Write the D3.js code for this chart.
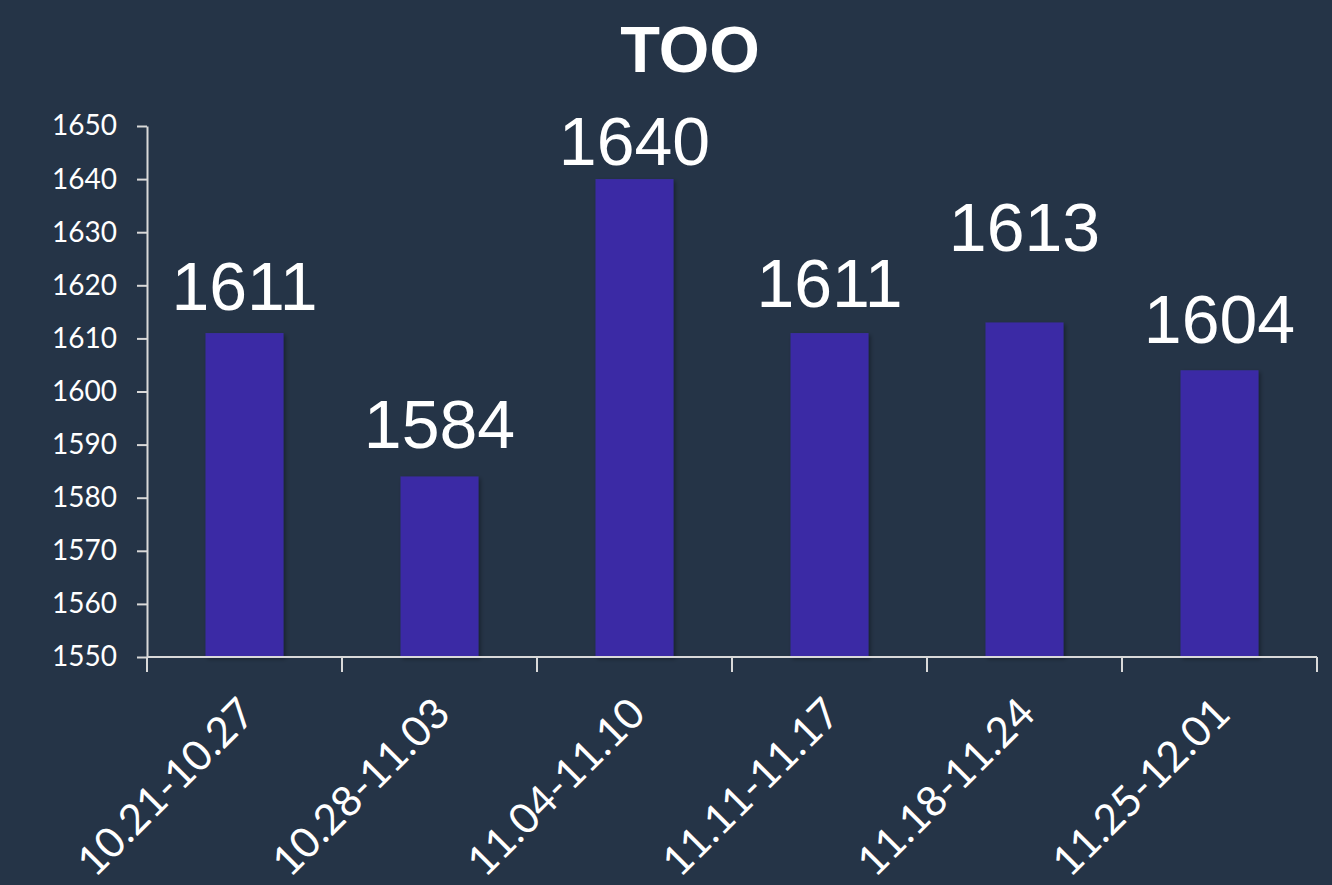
<!DOCTYPE html>
<html>
<head>
<meta charset="utf-8">
<script src="https://cdn.jsdelivr.net/npm/d3@7"></script>
<style>
  html, body { margin: 0; padding: 0; background: #253447; }
  svg { display: block; }
</style>
</head>
<body>
<svg id="chart" width="1332" height="885"></svg>
<script>
// chart data
const title = 'TOO';
const weeks = ['10.21-10.27', '10.28-11.03', '11.04-11.10', '11.11-11.17', '11.18-11.24', '11.25-12.01'];
const counts = [1611, 1584, 1640, 1611, 1613, 1604];
const yTicks = [1550, 1560, 1570, 1580, 1590, 1600, 1610, 1620, 1630, 1640, 1650];

// label gaps above each bar (labels were placed by hand in the original)
const labelGap = [23, 28, 14, 26, 71, 27];

const W = 1332, H = 885;
const plot = { left: 147, right: 1317, top: 126, bottom: 657 };
const axisColor = '#d9d9d9';
const barColor = '#3b2ca5';

const svg = d3.select('#chart');

svg.append('rect')
  .attr('width', W)
  .attr('height', H)
  .attr('fill', '#253447');

const defs = svg.append('defs');
const shadow = defs.append('filter')
  .attr('id', 'barShadow')
  .attr('x', '-10%').attr('y', '-10%')
  .attr('width', '130%').attr('height', '130%');
shadow.append('feDropShadow')
  .attr('dx', 2).attr('dy', 2)
  .attr('stdDeviation', 2)
  .attr('flood-color', '#000')
  .attr('flood-opacity', 0.35);

const x = d3.scaleBand()
  .domain(weeks)
  .range([plot.left, plot.right])
  .paddingInner(0.6)
  .paddingOuter(0.3);

const y = d3.scaleLinear()
  .domain([1550, 1650])
  .range([plot.bottom, plot.top]);

// title
svg.append('text')
  .attr('x', 690)
  .attr('y', 72)
  .attr('text-anchor', 'middle')
  .attr('font-family', '"Liberation Sans", Arial, sans-serif')
  .attr('font-weight', 'bold')
  .attr('font-size', 65)
  .attr('fill', '#ffffff')
  .text(title);

// bars
svg.append('g')
  .selectAll('rect')
  .data(counts)
  .join('rect')
  .attr('x', (d, i) => x(weeks[i]))
  .attr('y', d => y(d))
  .attr('width', x.bandwidth())
  .attr('height', d => y(1550) - y(d))
  .attr('fill', barColor)
  .attr('filter', 'url(#barShadow)');

// y axis
const yAxis = svg.append('g')
  .attr('transform', `translate(${plot.left},0)`)
  .call(d3.axisLeft(y)
    .tickValues(yTicks)
    .tickFormat(d3.format('d'))
    .tickSize(10)
    .tickPadding(20)
    .tickSizeOuter(0));

yAxis.select('.domain').attr('stroke', axisColor).attr('stroke-width', 2);
yAxis.selectAll('.tick line').attr('stroke', axisColor).attr('stroke-width', 2);
yAxis.selectAll('.tick text')
  .attr('fill', '#ffffff')
  .attr('font-family', 'Lato, "Open Sans", sans-serif')
  .attr('font-size', 28);

// x axis: ticks sit on band boundaries
const xAxis = svg.append('g')
  .attr('transform', `translate(0,${plot.bottom})`);

xAxis.append('line')
  .attr('x1', plot.left)
  .attr('x2', plot.right)
  .attr('stroke', axisColor)
  .attr('stroke-width', 2);

const tickXs = weeks.map((w, i) => plot.left + i * x.step()).concat([plot.right]);

xAxis.selectAll('line.tick')
  .data(tickXs)
  .join('line')
  .attr('class', 'tick')
  .attr('x1', d => d)
  .attr('x2', d => d)
  .attr('y1', 0)
  .attr('y2', 15)
  .attr('stroke', axisColor)
  .attr('stroke-width', 2);

xAxis.selectAll('text')
  .data(weeks)
  .join('text')
  .attr('transform', d => `translate(${x(d) + x.bandwidth() / 2 + 13},59) rotate(-45)`)
  .attr('text-anchor', 'end')
  .attr('fill', '#ffffff')
  .attr('font-family', 'Lato, "Open Sans", sans-serif')
  .attr('font-size', 42)
  .text(d => d);

// value labels
svg.append('g')
  .selectAll('text')
  .data(counts)
  .join('text')
  .attr('x', (d, i) => x(weeks[i]) + x.bandwidth() / 2)
  .attr('y', (d, i) => y(d) - labelGap[i])
  .attr('text-anchor', 'middle')
  .attr('font-family', '"Liberation Sans", Arial, sans-serif')
  .attr('font-size', 68)
  .attr('fill', '#ffffff')
  .text(d => d);
</script>
</body>
</html>
